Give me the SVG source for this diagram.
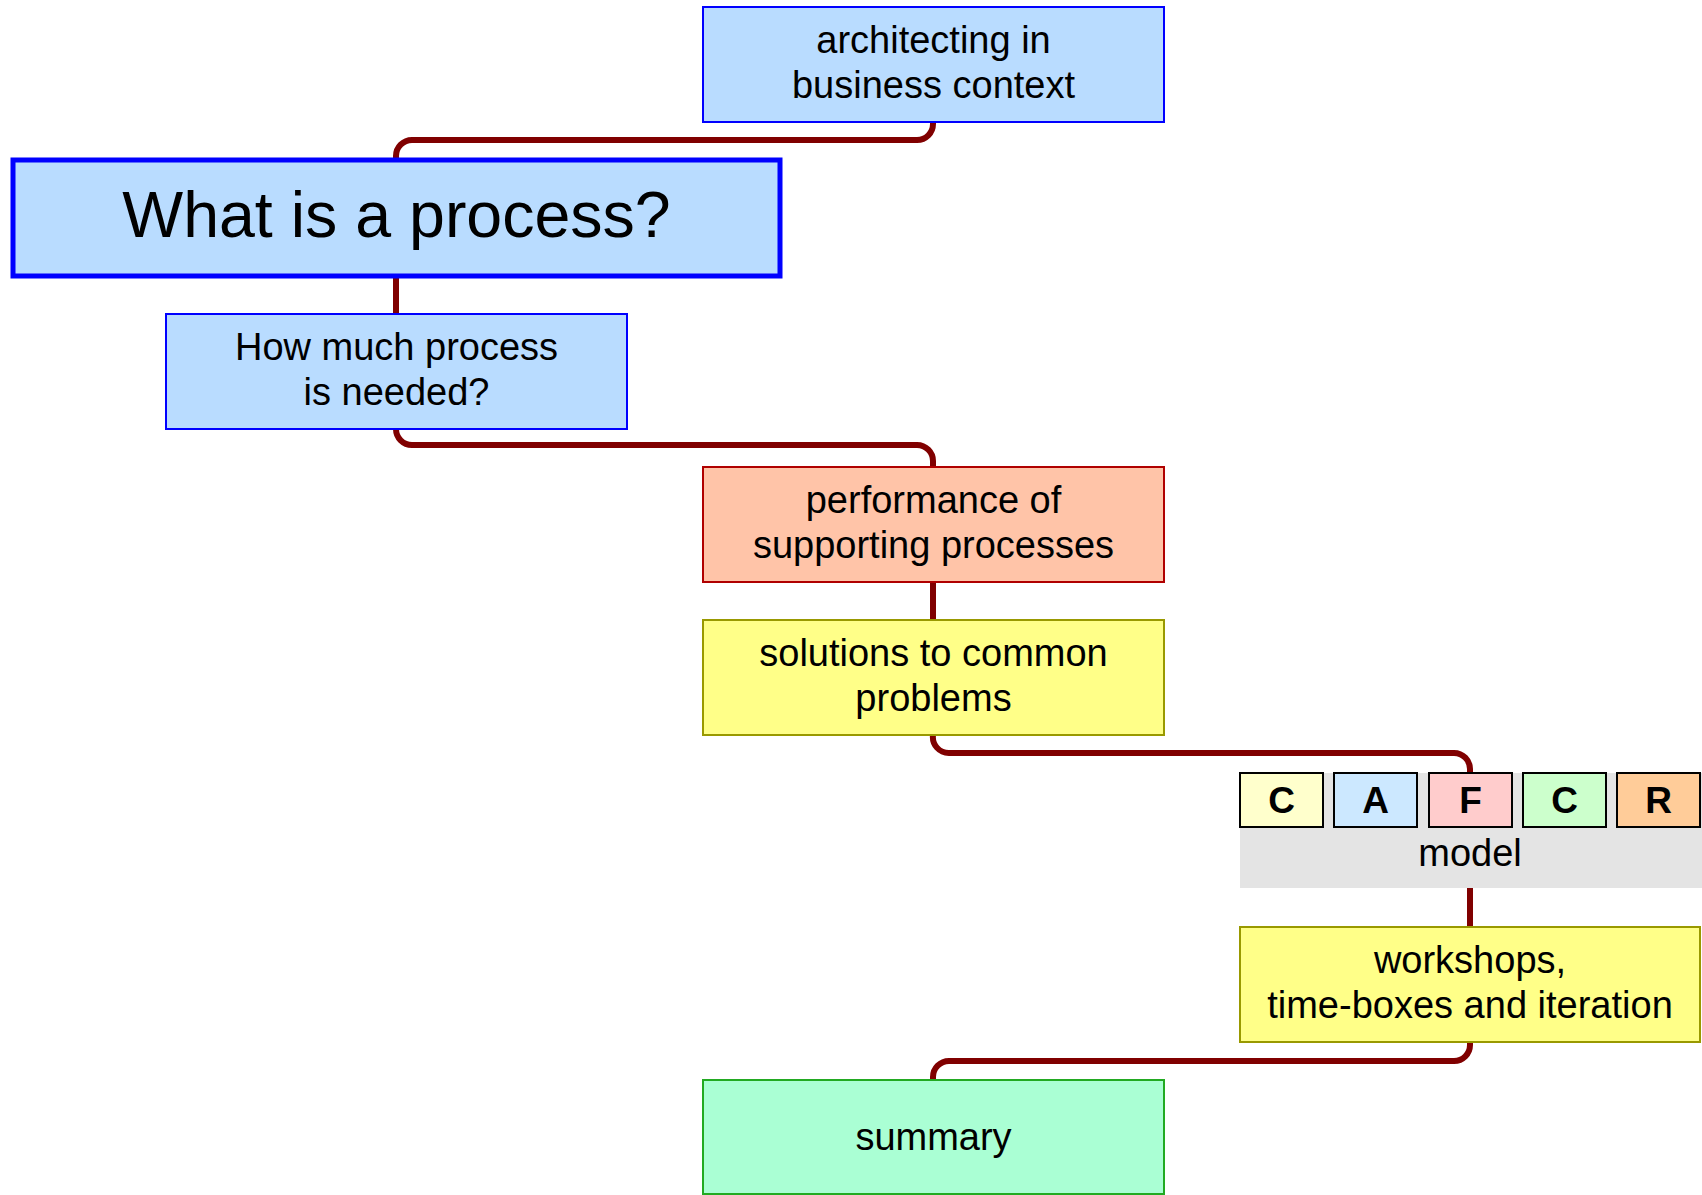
<svg xmlns="http://www.w3.org/2000/svg" width="1702" height="1195" viewBox="0 0 1702 1195">
<style>
text{font-family:"Liberation Sans",Arial,sans-serif;fill:#000;text-anchor:middle}
.t{font-size:38px}
.blue{fill:#b9dcff;stroke:#0000ff;stroke-width:2}
.salmon{fill:#ffc4a8;stroke:#b00000;stroke-width:2}
.yellow{fill:#ffff88;stroke:#999900;stroke-width:2}
.green{fill:#aaffd4;stroke:#22aa22;stroke-width:2}
.cell{stroke:#000;stroke-width:2}
.b{font-size:37px;font-weight:bold}
.conn{fill:none;stroke:#800000;stroke-width:6;stroke-linecap:round}
</style>
<rect width="1702" height="1195" fill="#fff"/>
<g id="connectors">
<path class="conn" d="M933,122 V124 A16,16 0 0 1 917,140 H412 A16,16 0 0 0 396,156 V160"/>
<path class="conn" d="M396,276 V314"/>
<path class="conn" d="M396,429 A16,16 0 0 0 412,445 H917 A16,16 0 0 1 933,461 V467"/>
<path class="conn" d="M933,582 V620"/>
<path class="conn" d="M933,735 A16,16 0 0 0 949,753 H1454 A16,16 0 0 1 1470,769 V773"/>
<path class="conn" d="M1470,888 V927"/>
<path class="conn" d="M1470,1042 V1045 A16,16 0 0 1 1454,1061 H949 A16,16 0 0 0 933,1077 V1080"/>
</g>
<g id="architecting">
<rect class="blue" x="703" y="7" width="461" height="115"/>
<text class="t" x="933.5" y="53">architecting in</text>
<text class="t" x="933.5" y="98">business context</text>
</g>
<g id="what-is-a-process">
<rect x="13" y="160" width="767" height="116" fill="#b9dcff" stroke="#0000ff" stroke-width="5"/>
<text x="396.5" y="237" style="font-size:64.5px">What is a process?</text>
</g>
<g id="how-much">
<rect class="blue" x="166" y="314" width="461" height="115"/>
<text class="t" x="396.5" y="360">How much process</text>
<text class="t" x="396.5" y="405">is needed?</text>
</g>
<g id="performance">
<rect class="salmon" x="703" y="467" width="461" height="115"/>
<text class="t" x="933.5" y="513">performance of</text>
<text class="t" x="933.5" y="558">supporting processes</text>
</g>
<g id="solutions">
<rect class="yellow" x="703" y="620" width="461" height="115"/>
<text class="t" x="933.5" y="666">solutions to common</text>
<text class="t" x="933.5" y="711">problems</text>
</g>
<g id="cafcr-model">
<rect x="1240" y="773" width="462" height="115" fill="#e4e4e4"/>
<rect class="cell" x="1240" y="773" width="83" height="54" fill="#ffffcc"/>
<rect class="cell" x="1334" y="773" width="83" height="54" fill="#cce8ff"/>
<rect class="cell" x="1429" y="773" width="83" height="54" fill="#ffcccc"/>
<rect class="cell" x="1523" y="773" width="83" height="54" fill="#ccffcc"/>
<rect class="cell" x="1617" y="773" width="83" height="54" fill="#ffcc99"/>
<text class="b" x="1281.5" y="813">C</text>
<text class="b" x="1375.5" y="813">A</text>
<text class="b" x="1470.5" y="813">F</text>
<text class="b" x="1564.5" y="813">C</text>
<text class="b" x="1658.5" y="813">R</text>
<text class="t" x="1470" y="866">model</text>
</g>
<g id="workshops">
<rect class="yellow" x="1240" y="927" width="460" height="115"/>
<text class="t" x="1470" y="973">workshops,</text>
<text class="t" x="1470" y="1018">time-boxes and iteration</text>
</g>
<g id="summary">
<rect class="green" x="703" y="1080" width="461" height="114"/>
<text class="t" x="933.5" y="1150">summary</text>
</g>
</svg>
